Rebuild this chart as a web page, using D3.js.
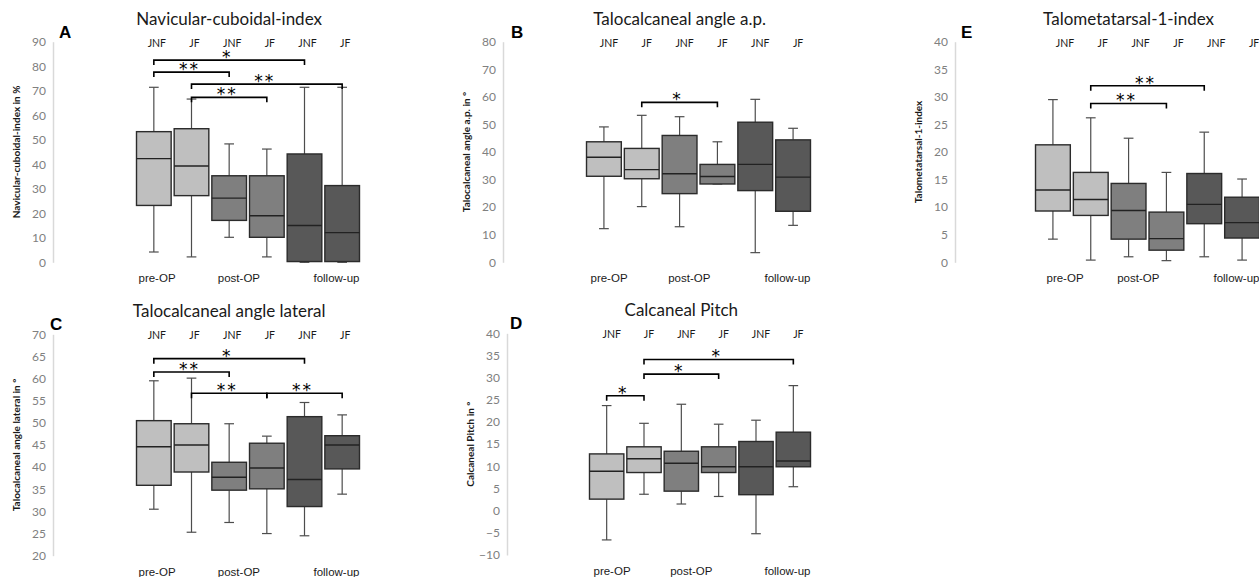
<!DOCTYPE html>
<html>
<head>
<meta charset="utf-8">
<script src="https://cdn.jsdelivr.net/npm/d3@7"></script>
<style>
  body { margin: 0; background: #fff; }
  svg { display: block; }
</style>
</head>
<body>
<div id="chart"></div>
<script>
// group labels above the boxes and phase labels below
const groupLabels = ["JNF", "JF", "JNF", "JF", "JNF", "JF"];
const phaseLabels = ["pre-OP", "post-OP", "follow-up"];
const phaseColors = ["#bfbfbf", "#7f7f7f", "#585858"];

// box stats per group: [min, q1, median, q3, max]
const navicularStats = [
    [4.2, 23.2, 42.3, 53.3, 71.4],
    [2.2, 27.2, 39.3, 54.5, 66.6],
    [10.2, 17.1, 26.2, 35.3, 48.3],
    [2.2, 10.2, 19.0, 35.3, 46.2],
    [0, 0.3, 15.0, 44.2, 71.4],
    [0, 0.3, 12.1, 31.3, 71.4]
];
const talocalcApStats = [
    [12.2, 31.2, 38.1, 43.7, 49.1],
    [20.2, 30.3, 33.6, 41.3, 53.3],
    [12.9, 24.9, 32.1, 46.0, 52.8],
    [28.4, 28.4, 31.1, 35.5, 43.7],
    [3.5, 26.0, 35.5, 50.8, 59.1],
    [13.4, 18.5, 30.9, 44.4, 48.6]
];
const talometStats = [
    [4.2, 9.3, 13.1, 21.3, 29.5],
    [0.4, 8.5, 11.4, 16.3, 26.2],
    [1.0, 4.2, 9.4, 14.3, 22.5],
    [0.3, 2.2, 4.3, 9.1, 16.3],
    [1.0, 7.0, 10.5, 16.1, 23.6],
    [0.4, 4.4, 7.2, 11.8, 15.1]
];
const talocalcLatStats = [
    [30.5, 35.9, 44.6, 50.5, 59.5],
    [25.3, 38.9, 45.0, 49.8, 60.1],
    [27.5, 34.8, 37.7, 41.1, 49.8],
    [25.0, 35.1, 39.8, 45.4, 47.0],
    [24.5, 31.1, 37.2, 51.4, 54.6],
    [33.9, 39.6, 45.0, 47.1, 51.8]
];
const calcPitchStats = [
    [-6.6, 2.6, 8.9, 12.8, 23.7],
    [3.7, 8.6, 11.7, 14.4, 19.7],
    [1.5, 4.4, 10.7, 13.4, 24.0],
    [3.2, 8.6, 9.9, 14.4, 19.5],
    [-5.2, 3.6, 9.9, 15.6, 20.4],
    [5.4, 9.9, 11.2, 17.7, 28.2]
];

// significance brackets: [from group, to group, level, label]
const navicularSig = [[0, 4, 82.5, "*"], [0, 2, 77.6, "**"], [1, 5, 72.7, "**"], [1, 3, 67.3, "**"]];
const talocalcApSig = [[1, 3, 58, "*"]];
const talometSig = [[1, 4, 32, "**"], [1, 3, 28.8, "**"]];
const talocalcLatSig = [[0, 4, 64.5, "*"], [0, 2, 61.5, "**"], [1, 3, 56.7, "**"], [3, 5, 56.7, "**"]];
const calcPitchSig = [[0, 1, 25.9, "*"], [1, 3, 30.8, "*"], [1, 5, 34.1, "*"]];

// tick labels
const navicularTicks = [0, 10, 20, 30, 40, 50, 60, 70, 80, 90];
const talocalcApTicks = [0, 10, 20, 30, 40, 50, 60, 70, 80];
const talometTicks = [0, 5, 10, 15, 20, 25, 30, 35, 40];
const talocalcLatTicks = [20, 25, 30, 35, 40, 45, 50, 55, 60, 65, 70];
const calcPitchTicks = [-10, -5, 0, 5, 10, 15, 20, 25, 30, 35, 40];

const width = 1259, height = 577;

const svg = d3.select("#chart").append("svg")
    .attr("width", width)
    .attr("height", height);

const panels = [
    { letter: "A", title: "Navicular-cuboidal-index", yTitle: "Navicular-cuboidal-index in %",
      stats: navicularStats, sig: navicularSig, ticks: navicularTicks,
      axisX: 53, top: 41.7, bottom: 262.3, boxes: [135, 361], letterX: 59, labelDx: 3 },
    { letter: "B", title: "Talocalcaneal angle a.p.", yTitle: "Talocalcaneal angle a.p. in °",
      stats: talocalcApStats, sig: talocalcApSig, ticks: talocalcApTicks,
      axisX: 503, top: 41.7, bottom: 262.3, boxes: [585, 812], letterX: 511, labelDx: 5 },
    { letter: "E", title: "Talometatarsal-1-index", yTitle: "Talometatarsal-1-index",
      stats: talometStats, sig: talometSig, ticks: talometTicks,
      axisX: 955, top: 41.7, bottom: 262.3, boxes: [1034, 1261], letterX: 961, labelDx: 12 },
    { letter: "C", title: "Talocalcaneal angle lateral", yTitle: "Talocalcaneal angle lateral in °",
      stats: talocalcLatStats, sig: talocalcLatSig, ticks: talocalcLatTicks,
      axisX: 53, top: 334.3, bottom: 555.7, boxes: [135, 361], letterX: 50, labelDx: 3 },
    { letter: "D", title: "Calcaneal Pitch", yTitle: "Calcaneal Pitch in °",
      stats: calcPitchStats, sig: calcPitchSig, ticks: calcPitchTicks,
      axisX: 507, top: 333.3, bottom: 555, boxes: [588, 812], letterX: 510, labelDx: 5 }
];

panels.forEach(drawPanel);

function drawPanel(p) {
    const g = svg.append("g");

    const y = d3.scaleLinear()
        .domain(d3.extent(p.ticks))
        .range([p.bottom, p.top]);

    const x = d3.scaleBand()
        .domain(d3.range(groupLabels.length))
        .range(p.boxes)
        .paddingInner(0.08)
        .paddingOuter(0.04);

    const bw = x.bandwidth();

    // y axis: light line, grey labels, no ticks
    const axis = g.append("g")
        .attr("transform", `translate(${p.axisX},0)`)
        .call(d3.axisLeft(y).tickValues(p.ticks).tickSize(0).tickPadding(7));
    axis.select(".domain").attr("stroke", "#d9d9d9").attr("stroke-width", 1.5);
    axis.selectAll("text")
        .attr("fill", "#808080")
        .style("font-family", "Lato, sans-serif")
        .style("font-size", "12px");

    // y axis title
    g.append("text")
        .attr("transform", `translate(${p.axisX - 33},${(p.top + p.bottom) / 2}) rotate(-90)`)
        .attr("text-anchor", "middle")
        .style("font-family", "Lato, sans-serif")
        .style("font-weight", "bold")
        .style("font-size", "10px")
        .attr("fill", "#1a1a1a")
        .text(p.yTitle);

    // panel letter
    g.append("text")
        .attr("x", p.letterX)
        .attr("y", p.top - 4)
        .style("font-family", "Liberation Sans, Arial, sans-serif")
        .style("font-weight", "bold")
        .style("font-size", "17px")
        .attr("fill", "#000")
        .text(p.letter);

    // title, centred over the third box
    g.append("text")
        .attr("x", x(2) + bw / 2)
        .attr("y", p.top - 17)
        .attr("text-anchor", "middle")
        .style("font-family", "Lato, sans-serif")
        .style("font-size", "17px")
        .attr("fill", "#1a1a1a")
        .text(p.title);

    // group labels
    g.selectAll(".grp")
        .data(groupLabels)
        .enter().append("text")
        .attr("x", (d, i) => x(i) + bw / 2 + p.labelDx)
        .attr("y", p.top + 5)
        .attr("text-anchor", "middle")
        .style("font-family", "Lato, sans-serif")
        .style("font-size", "10.5px")
        .attr("fill", "#1a1a1a")
        .text(d => d);

    // phase labels below
    const phaseX = [x(0) + 2, x(2) + 6, x(5) + bw];
    const phaseAnchor = ["start", "start", "end"];
    g.selectAll(".phase")
        .data(phaseLabels)
        .enter().append("text")
        .attr("x", (d, i) => phaseX[i] + (i === 0 ? p.labelDx - 3 : 0))
        .attr("y", p.bottom + 20)
        .attr("text-anchor", (d, i) => phaseAnchor[i])
        .style("font-family", "Liberation Sans, Arial, sans-serif")
        .style("font-size", "11.5px")
        .attr("fill", "#1a1a1a")
        .text(d => d);

    // boxes
    const boxes = g.selectAll(".box")
        .data(p.stats)
        .enter().append("g")
        .attr("transform", (d, i) => `translate(${x(i)},0)`);

    const cx = bw / 2;
    const cap = bw * 0.14;

    // whiskers
    boxes.append("line")
        .attr("x1", cx).attr("x2", cx)
        .attr("y1", d => y(d[4])).attr("y2", d => y(d[3]))
        .attr("stroke", "#4d4d4d").attr("stroke-width", 1.2);
    boxes.append("line")
        .attr("x1", cx).attr("x2", cx)
        .attr("y1", d => y(d[1])).attr("y2", d => y(d[0]))
        .attr("stroke", "#4d4d4d").attr("stroke-width", 1.2);
    boxes.append("line")
        .attr("x1", cx - cap).attr("x2", cx + cap)
        .attr("y1", d => y(d[4])).attr("y2", d => y(d[4]))
        .attr("stroke", "#4d4d4d").attr("stroke-width", 1.2);
    boxes.append("line")
        .attr("x1", cx - cap).attr("x2", cx + cap)
        .attr("y1", d => y(d[0])).attr("y2", d => y(d[0]))
        .attr("stroke", "#4d4d4d").attr("stroke-width", 1.2);

    boxes.append("rect")
        .attr("x", 0)
        .attr("width", bw)
        .attr("y", d => y(d[3]))
        .attr("height", d => y(d[1]) - y(d[3]))
        .attr("fill", (d, i) => phaseColors[Math.floor(i / 2)])
        .attr("stroke", "#2b2b2b")
        .attr("stroke-width", 1.4);

    boxes.append("line")
        .attr("x1", 0).attr("x2", bw)
        .attr("y1", d => y(d[2])).attr("y2", d => y(d[2]))
        .attr("stroke", "#222").attr("stroke-width", 1.4);

    // significance brackets
    const sig = g.selectAll(".sig")
        .data(p.sig)
        .enter().append("g");

    sig.append("path")
        .attr("d", d => {
            const x1 = x(d[0]) + cx, x2 = x(d[1]) + cx, yy = y(d[2]);
            return `M${x1},${yy + 5}V${yy}H${x2}V${yy + 5}`;
        })
        .attr("fill", "none")
        .attr("stroke", "#000")
        .attr("stroke-width", 1.6);

    sig.append("text")
        .attr("x", d => (x(d[0]) + x(d[1])) / 2 + cx - 2)
        .attr("y", d => y(d[2]) + 3)
        .attr("text-anchor", "middle")
        .style("font-family", "DejaVu Sans, sans-serif")
        .style("font-size", "17px")
        .style("letter-spacing", "2px")
        .attr("fill", "#000")
        .text(d => d[3]);
}
</script>
</body>
</html>
